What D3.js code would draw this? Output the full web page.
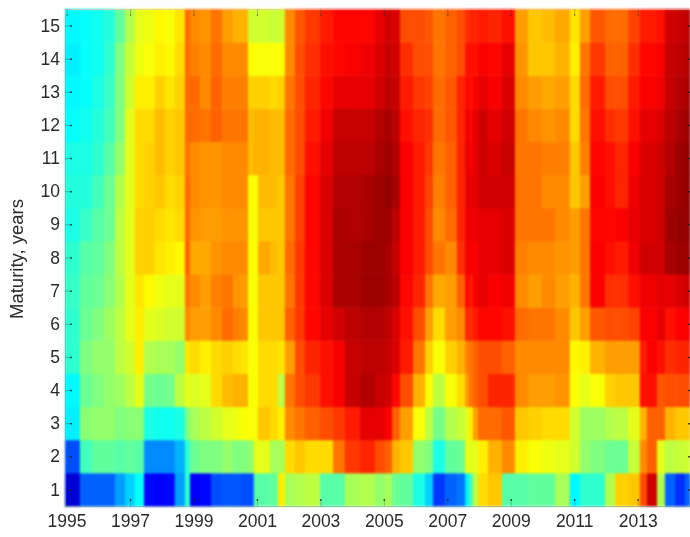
<!DOCTYPE html>
<html>
<head>
<meta charset="utf-8">
<script src="https://d3js.org/d3.v7.min.js"></script>
<style>
  html, body { margin: 0; padding: 0; background: #fff; overflow: hidden; }
  svg { display: block; }
  text { font-family: "Liberation Sans", Arial, sans-serif; fill: #2a2a2a; }
</style>
</head>
<body>
<svg id="chart" width="690" height="537"></svg>
<script>
let width = 690, height = 537;

// left edges of each stripe, decimal years (last entry closes the final stripe)
let periods = [1994.95,1995.42,1995.80,1996.18,1996.52,1996.84,1997.15,1997.44,1997.78,1998.10,1998.41,1998.73,1998.89,1999.20,1999.55,1999.90,2000.24,2000.49,2000.72,2000.90,2001.03,2001.41,2001.66,2001.88,2002.20,2002.51,2002.99,2003.40,2003.77,2004.25,2004.72,2005.03,2005.26,2005.51,2005.92,2006.30,2006.55,2006.93,2007.30,2007.56,2007.68,2007.81,2007.97,2008.28,2008.72,2009.13,2009.54,2009.98,2010.39,2010.86,2011.18,2011.50,2011.97,2012.29,2012.70,2013.07,2013.29,2013.61,2013.86,2014.18,2014.49,2014.65];

let maturities = [1,2,3,4,5,6,7,8,9,10,11,12,13,14,15];
let tickYears = [1995,1997,1999,2001,2003,2005,2007,2009,2011,2013];

// colour level 0-100 for every stripe
let m1  = [8,22,22,22,28,33,38,13,12,13,28,42,12,13,20,21,21,20,20,46,46,47,64,54,55,56,46,46,54,55,52,54,48,47,40,33,18,22,24,36,44,56,66,68,46,46,47,47,54,37,42,42,55,67,68,80,92,55,22,17,22];
let m2  = [20,44,47,47,46,47,46,26,26,26,30,42,48,50,50,52,50,50,52,60,60,54,54,66,68,66,66,76,82,84,80,78,70,68,52,50,40,47,48,60,60,60,64,70,74,64,62,61,60,58,52,50,48,48,57,74,78,60,56,57,58];
let m3  = [36,51,52,52,50,51,51,40,39,39,40,50,54,56,58,60,61,62,62,62,68,66,64,74,76,78,80,82,85,90,90,88,78,72,62,56,49,55,57,60,64,72,77,77,79,68,67,66,66,58,53,53,55,56,60,70,78,78,70,68,68];
let m4  = [37,48,50,52,53,56,60,49,48,49,56,60,59,60,66,69,70,70,62,62,66,66,56,76,80,82,86,88,93,95,93,92,87,80,70,62,56,62,66,72,76,78,80,84,84,74,72,72,73,62,60,62,67,68,68,86,86,79,80,80,80];
let m5  = [42,50,52,52,56,58,64,55,54,54,52,65,66,64,66,67,66,65,62,62,66,66,65,72,80,84,86,88,93,94,94,93,91,85,76,67,62,67,70,75,76,78,80,80,78,74,74,74,74,63,64,70,72,72,72,85,88,86,83,84,84];
let m6  = [42,48,50,53,56,60,64,60,59,58,58,74,72,72,74,77,75,74,62,62,68,68,68,78,82,87,90,92,94,95,95,94,91,86,80,72,66,72,74,84,83,85,87,87,86,77,76,76,74,68,72,79,80,80,81,88,88,90,86,88,88];
let m7  = [43,47,48,51,55,60,65,63,61,60,60,76,74,72,75,76,73,72,62,62,68,68,68,76,82,87,91,96,96,97,97,96,94,87,84,76,71,72,78,87,85,88,90,88,89,74,72,74,72,70,76,88,83,83,86,89,89,90,90,91,92];
let m8  = [42,46,47,50,56,60,67,67,65,64,63,78,71,71,73,74,74,74,62,62,71,69,68,77,82,87,91,96,96,97,97,96,93,88,85,80,76,74,83,89,88,88,90,90,91,75,74,74,73,72,76,88,86,85,89,92,92,92,96,97,97];
let m9  = [40,43,46,48,56,60,67,67,66,65,66,77,73,72,72,73,73,73,62,62,68,68,68,76,81,87,91,96,95,96,97,97,94,88,85,80,74,77,84,89,89,89,90,90,91,76,76,76,74,72,76,87,87,88,90,91,91,92,97,98,98];
let m10 = [41,41,44,48,55,60,66,67,68,66,67,77,74,73,73,74,74,74,62,62,69,69,68,76,81,87,91,95,95,96,97,98,96,88,85,81,75,78,84,90,90,90,92,92,92,76,76,74,74,68,72,88,86,84,89,91,91,92,96,97,98];
let m11 = [40,40,42,46,52,60,66,67,69,67,68,76,74,73,73,74,74,74,69,70,70,69,69,77,80,86,90,94,94,94,96,97,95,88,85,82,76,78,84,90,88,90,92,91,93,76,76,75,75,68,75,87,86,84,88,91,91,92,95,97,98];
let m12 = [38,39,41,44,50,60,66,66,69,67,68,77,77,76,78,76,76,76,69,70,70,69,69,77,80,85,89,93,93,93,95,96,94,86,84,83,77,79,84,89,87,90,92,90,92,76,74,73,74,66,76,86,83,82,86,90,90,91,94,96,97];
let m13 = [37,38,40,43,50,58,64,64,67,65,67,77,77,74,78,75,75,75,67,67,67,66,67,76,80,84,87,90,90,90,92,94,93,85,82,81,77,79,84,87,86,88,90,88,91,74,72,71,72,66,77,85,80,80,85,88,88,89,93,95,96];
let m14 = [36,38,39,42,50,57,61,62,64,63,66,77,75,74,77,74,74,74,62,62,62,62,62,74,80,83,86,87,88,89,91,93,92,83,80,80,76,78,80,86,86,86,88,87,90,73,68,68,70,64,76,82,78,78,83,87,87,88,93,94,95];
let m15 = [37,38,39,41,47,55,60,61,63,62,65,77,74,73,76,72,70,70,58,58,58,57,58,74,79,82,85,87,87,87,90,92,91,80,80,79,76,78,80,83,84,84,85,84,86,72,68,69,71,65,72,79,77,77,81,85,85,86,92,93,94];

let levels = [m1,m2,m3,m4,m5,m6,m7,m8,m9,m10,m11,m12,m13,m14,m15];

let svg = d3.select('#chart');

let x = d3.scaleLinear().domain([1994.95, 2014.65]).range([65, 690]);
let y = d3.scaleLinear().domain([0.5, 15.5]).range([506, 9]);

// matlab jet
let jet = d3.scaleLinear()
    .domain([0, 12.5, 37.5, 62.5, 87.5, 100])
    .range(['#00008f', '#0000ff', '#00ffff', '#ffff00', '#ff0000', '#800000'])
    .clamp(true);

let cells = [];
maturities.forEach((m, r) => {
    levels[r].forEach((v, c) => {
        cells.push({m: m, start: periods[c], end: periods[c + 1], v: v});
    });
});

svg.append('g')
    .attr('id', 'cells')
    .style('filter', 'blur(0.8px)')
    .selectAll('rect')
    .data(cells)
    .enter().append('rect')
    .attr('x', d => x(d.start))
    .attr('y', d => y(d.m + 0.5))
    .attr('width', d => x(d.end) - x(d.start) + 0.5)
    .attr('height', d => y(d.m - 0.5) - y(d.m + 0.5) + 0.5)
    .attr('fill', d => jet(d.v));

// axes on all four sides, ticks point into the plot
let tickLen = 7;
let gx = svg.append('g').attr('transform', 'translate(0,506)')
    .call(d3.axisBottom(x).tickValues(tickYears).tickFormat(d3.format('d')).tickSize(-tickLen).tickPadding(9));
let gy = svg.append('g').attr('transform', 'translate(65,0)')
    .call(d3.axisLeft(y).tickValues(maturities).tickSize(-tickLen).tickPadding(5));
let gt = svg.append('g').attr('transform', 'translate(0,9)')
    .call(d3.axisTop(x).tickValues(tickYears).tickFormat('').tickSize(-tickLen));
let gr = svg.append('g').attr('transform', 'translate(695,0)')
    .call(d3.axisRight(y).tickValues(maturities).tickFormat('').tickSize(-tickLen));

gx.select('.domain').attr('stroke', '#5a8a8a').attr('stroke-opacity', 0.5);
gy.select('.domain').attr('stroke', '#5a9a9a').attr('stroke-opacity', 0.6);
gt.select('.domain').attr('stroke', '#f4b0a0').attr('stroke-opacity', 0.6);
gr.select('.domain').remove();

svg.selectAll('.tick line').attr('stroke', '#333').attr('stroke-opacity', 0.3);

// the tick ends show up as small dark dots
gx.selectAll('.tick').append('line').attr('y1', -tickLen + 2).attr('y2', -tickLen).attr('stroke', '#222').attr('stroke-width', 1.5).attr('stroke-opacity', 0.7);
gt.selectAll('.tick').append('line').attr('y1', tickLen - 2).attr('y2', tickLen).attr('stroke', '#222').attr('stroke-width', 1.2).attr('stroke-opacity', 0.35);
gy.selectAll('.tick').append('line').attr('x1', tickLen - 2).attr('x2', tickLen).attr('stroke', '#222').attr('stroke-width', 1.5).attr('stroke-opacity', 0.7);
gr.selectAll('.tick').append('line').attr('x1', -tickLen + 2).attr('x2', -tickLen).attr('stroke', '#222').attr('stroke-width', 1.5).attr('stroke-opacity', 0.7);

gx.selectAll('.tick text').attr('font-size', 17.5).style('filter', 'blur(0.35px)');
gy.selectAll('.tick text').attr('font-size', 17.5).style('filter', 'blur(0.35px)');

svg.append('text')
    .attr('transform', 'translate(23,259) rotate(-90)')
    .attr('text-anchor', 'middle')
    .attr('font-size', 18.5)
    .style('filter', 'blur(0.35px)')
    .text('Maturity, years');
</script>
</body>
</html>
